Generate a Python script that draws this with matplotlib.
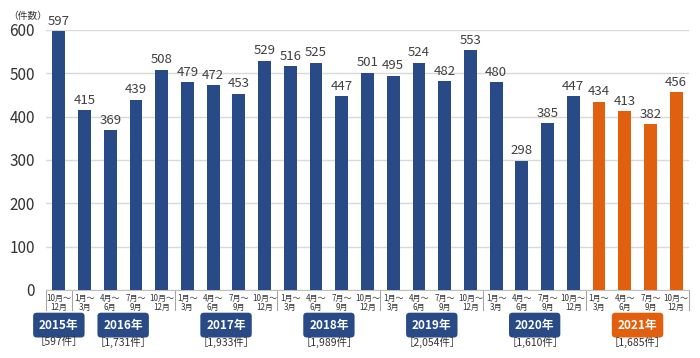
import matplotlib
matplotlib.use('Agg')
import matplotlib.pyplot as plt
from matplotlib.transforms import blended_transform_factory

plt.rcParams['font.family'] = ['Noto Sans CJK JP', 'DejaVu Sans']

# quarterly counts, 2015 Q4 .. 2021 Q4
counts = [597,
          415, 369, 439, 508,
          479, 472, 453, 529,
          516, 525, 447, 501,
          495, 524, 482, 553,
          480, 298, 385, 447,
          434, 413, 382, 456]
quarters = ['10月～\n12月'] + ['1月～\n3月', '4月～\n6月', '7月～\n9月', '10月～\n12月'] * 6
years = ['2015年', '2016年', '2017年', '2018年', '2019年', '2020年', '2021年']
year_totals = ['［597件］', '［1,731件］', '［1,933件］', '［1,989件］', '［2,054件］',
               '［1,610件］', '［1,685件］']
# number of quarters in each year group
year_len = [1, 4, 4, 4, 4, 4, 4]

blue = '#284a87'
orange = '#e0600f'
colors = [blue] * 21 + [orange] * 4

fig = plt.figure(figsize=(7, 3.58), dpi=100)
ax = fig.add_axes([46 / 700, 68 / 358, 643 / 700, 260 / 358])

x = list(range(len(counts)))
ax.bar(x, counts, width=0.5, color=colors, zorder=3)
for xi, v in zip(x, counts):
    ax.text(xi, v + 8, str(v), ha='center', va='bottom', fontsize=9.5, color='#404040')

ax.set_xlim(-0.5, len(counts) - 0.5)
ax.set_ylim(0, 600)
ax.set_yticks(range(0, 601, 100))
ax.tick_params(axis='y', length=0, labelsize=11, colors='#333333', pad=8)
ax.yaxis.grid(True, color='#d9d9d9', lw=1, zorder=0)
for s in ['top', 'right', 'left']:
    ax.spines[s].set_visible(False)
ax.spines['bottom'].set_color('#bfbfbf')

ax.set_xticks(x)
ax.set_xticklabels(quarters, fontsize=5.8, color='#333333', linespacing=1.0)
ax.tick_params(axis='x', length=0, pad=3)

fig.text(8 / 700, 1 - 16 / 358, '（件数）', ha='left', va='center',
         fontsize=7, color='#333333')

trans = blended_transform_factory(ax.transData, ax.transAxes)
start = -0.5
bounds = [start]
for n in year_len:
    start += n
    bounds.append(start)
for b in bounds:
    ax.plot([b, b], [0, -0.075], transform=trans, color='#a6a6a6', lw=0.8, clip_on=False)

for i, (yr, tot) in enumerate(zip(years, year_totals)):
    c = (bounds[i] + bounds[i + 1]) / 2
    col = orange if i == len(years) - 1 else blue
    ax.text(c, -0.135, yr, transform=trans, ha='center', va='center', fontsize=8.5,
            fontweight='bold', color='white',
            bbox=dict(boxstyle='round,pad=0.5,rounding_size=0.3', fc=col, ec='none'))
    ax.text(c, -0.2, tot, transform=trans, ha='center', va='center', fontsize=7.5,
            color='#333333')

fig.savefig('out.png', dpi=100)
